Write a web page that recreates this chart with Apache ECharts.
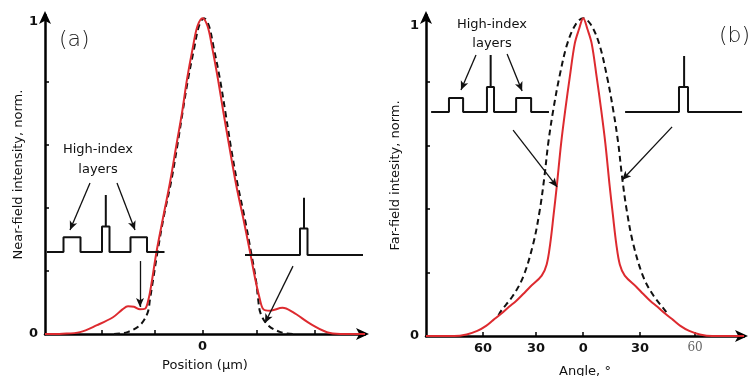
<!DOCTYPE html>
<html><head><meta charset="utf-8">
<script src="https://cdn.jsdelivr.net/npm/echarts@6/dist/echarts.min.js"></script>
<style>html,body{margin:0;padding:0;background:#fff}#c{width:748px;height:376px}</style>
</head><body><div id="c"></div>
<script>
const FONT = '"DejaVu Sans", "Liberation Sans", sans-serif';
const RED = '#dd2a2f';

// ---------- Panel (a): near field ----------
const redAX = [-3.15,-2.8,-2.45,-2.11,-1.79,-1.6,-1.49,-1.37,-1.25,-1.15,-1.08,-1.02,-0.92,-0.78,-0.65,-0.52,-0.41,-0.31,-0.19,-0.1,0,0.1,0.19,0.31,0.42,0.54,0.67,0.81,0.95,1.06,1.14,1.22,1.35,1.6,1.8,2.2,2.55,2.85,3.25];
const redAY = [0,0.001,0.006,0.028,0.053,0.078,0.088,0.086,0.078,0.08,0.11,0.16,0.26,0.375,0.48,0.6,0.7,0.806,0.91,0.975,1,0.975,0.91,0.806,0.7,0.59,0.475,0.37,0.26,0.17,0.115,0.078,0.074,0.083,0.07,0.028,0.003,0,0];
const dashAX = [-1.77,-1.5,-1.25,-1.1,-1.05,-1.0,-0.9,-0.77,-0.63,-0.5,-0.4,-0.29,-0.16,-0.07,0.03,0.13,0.22,0.35,0.46,0.57,0.7,0.84,0.97,1.07,1.11,1.16,1.31,1.56,1.83];
const dashAY = [0,0.006,0.028,0.066,0.11,0.16,0.26,0.375,0.48,0.6,0.7,0.806,0.91,0.975,1,0.975,0.91,0.806,0.7,0.59,0.475,0.37,0.26,0.17,0.115,0.066,0.028,0.006,0];
// inset index profiles (a)
const insetALX = [-3.11,-2.78,-2.78,-2.44,-2.44,-2.01,-2.01,-1.934,-1.934,-1.934,-1.86,-1.86,-1.44,-1.44,-1.11,-1.11,-0.76];
const insetALY = [0.26,0.26,0.306,0.306,0.26,0.26,0.34,0.34,0.44,0.34,0.34,0.26,0.26,0.306,0.306,0.26,0.26];
const insetARX = [0.85,1.95,1.95,2.03,2.03,2.03,2.10,2.10,3.21];
const insetARY = [0.25,0.25,0.334,0.334,0.431,0.334,0.334,0.25,0.25];
// arrows (a): [x1,y1,x2,y2]
const arrowsA = [[-2.25,0.478,-2.65,0.329],[-1.71,0.478,-1.35,0.329],[-1.25,0.231,-1.25,0.0855],[1.81,0.215,1.25,0.035]];
const tickA = [-2.01,-0.95,0,1.09,2.25];

// ---------- Panel (b): far field ----------
const redBX = [-89,-73,-66,-60,-55,-51,-46.5,-42,-38,-34,-30,-23.5,-20.7,-18.7,-16.8,-15,-12.5,-10.2,-7.6,-4.8,-2.4,0,2.4,4.8,7.6,10.2,12.5,15,16.8,18.7,20.7,23.5,30,34,38,42,46.5,51,55,60,66,73,91];
const redBY = [0,0,0.005,0.016,0.032,0.05,0.07,0.092,0.11,0.132,0.155,0.19,0.225,0.29,0.38,0.47,0.607,0.71,0.815,0.92,0.965,1,0.965,0.92,0.815,0.71,0.607,0.47,0.38,0.29,0.225,0.19,0.155,0.132,0.11,0.092,0.07,0.05,0.032,0.016,0.005,0,0];
const dashBX = [-48,-46.4,-40,-34,-28.3,-24.6,-22,-19.8,-17,-13.5,-9,-4.3,0,4.3,9,13.5,17,19.8,22,24.6,28.3,34,40,46.4,48];
const dashBY = [0.065,0.08,0.125,0.186,0.29,0.396,0.5,0.607,0.71,0.815,0.92,0.98,1,0.98,0.92,0.815,0.71,0.607,0.5,0.396,0.29,0.186,0.125,0.08,0.065];
const insetBLX = [-86.1,-76,-76,-68,-68,-54.5,-54.5,-52.4,-52.4,-52.4,-50.5,-50.5,-38,-38,-29.5,-29.5,-19.4];
const insetBLY = [0.705,0.705,0.749,0.749,0.705,0.705,0.7835,0.7835,0.884,0.7835,0.7835,0.705,0.705,0.749,0.749,0.705,0.705];
const insetBRX = [23.7,54.2,54.2,57.1,57.1,57.1,59.3,59.3,89.9];
const insetBRY = [0.705,0.705,0.7835,0.7835,0.881,0.7835,0.7835,0.705,0.705];
const arrowsB = [[-60.7,0.884,-69.2,0.774],[-43.1,0.887,-34.6,0.771],[-39.7,0.648,-14.8,0.469],[50.3,0.658,22.0,0.491]];
const tickB = [-56.7,-26.7,0,32.2,63.3];
const tickBLabels = ['60','30','0','30','60'];

const zip = (xs, ys) => xs.map((x, i) => [x, ys[i]]);

function axisLineStyle() {
  return { show: true, onZero: false, symbol: ['none', 'arrow'], symbolSize: [9, 13], symbolOffset: [0, 4],
           lineStyle: { color: '#000', width: 2.5 } };
}
const labelStyle = { color: '#111', fontFamily: FONT, fontSize: 13, fontWeight: 'bold' };
const nameStyle = { color: '#111', fontFamily: FONT, fontSize: 13 };

function arrowMark(arr) {
  return {
    silent: true, symbol: ['none', 'arrow'], symbolSize: [6, 9],
    label: { show: false },
    lineStyle: { color: '#111', width: 1.3, type: 'solid' },
    data: arr.map(a => [{ coord: [a[0], a[1]] }, { coord: [a[2], a[3]] }])
  };
}

const chart = echarts.init(document.getElementById('c'), null, { renderer: 'canvas' });
chart.setOption({
  animation: false,
  backgroundColor: '#fff',
  grid: [
    { left: 45, top: 15, width: 320, height: 319, containLabel: false, outerBoundsMode: 'none' },
    { left: 426, top: 15, width: 318, height: 321, containLabel: false, outerBoundsMode: 'none' }
  ],
  xAxis: [
    { gridIndex: 0, type: 'value', min: -3.15, max: 3.25,
      axisLine: axisLineStyle(), splitLine: { show: false },
      axisTick: { show: true, inside: true, length: 4, lineStyle: { width: 1.5, color: '#000' }, customValues: tickA },
      axisLabel: Object.assign({ customValues: [0], formatter: () => '0', margin: 6 }, labelStyle),
      name: 'Position (\u00b5m)', nameLocation: 'middle', nameGap: 25, nameTextStyle: nameStyle },
    { gridIndex: 1, type: 'value', min: -89, max: 91,
      axisLine: axisLineStyle(), splitLine: { show: false },
      axisTick: { show: true, inside: true, length: 4, lineStyle: { width: 1.5, color: '#000' }, customValues: tickB },
      axisLabel: Object.assign({ customValues: tickB, margin: 6,
        formatter: v => {
          let k = 0, d = 1e9;
          tickB.forEach((t, i) => { if (Math.abs(t - v) < d) { d = Math.abs(t - v); k = i; } });
          return k === tickB.length - 1 ? '{s|' + tickBLabels[k] + '}' : tickBLabels[k];
        },
        rich: { s: { fontFamily: '"DejaVu Serif", serif', fontSize: 12, color: '#666', fontWeight: 'normal' } }
      }, labelStyle),
      name: 'Angle, \u00b0', nameLocation: 'middle', nameGap: 29, nameTextStyle: nameStyle }
  ],
  yAxis: [
    { gridIndex: 0, type: 'value', min: 0, max: 1.01,
      axisLine: axisLineStyle(), splitLine: { show: false },
      axisTick: { show: true, inside: true, length: 4, lineStyle: { width: 1.5, color: '#000' }, customValues: [0.2, 0.4, 0.6, 0.8] },
      axisLabel: Object.assign({ customValues: [0, 0.99], formatter: v => (v < 0.5 ? '0' : '1'), margin: 7 }, labelStyle),
      name: 'Near-field intensity, norm.', nameLocation: 'middle', nameRotate: 90, nameGap: 20, nameTextStyle: nameStyle },
    { gridIndex: 1, type: 'value', min: 0, max: 1.01,
      axisLine: axisLineStyle(), splitLine: { show: false },
      axisTick: { show: true, inside: true, length: 4, lineStyle: { width: 1.5, color: '#000' }, customValues: [0.2, 0.4, 0.6, 0.8] },
      axisLabel: Object.assign({ customValues: [0, 0.975], formatter: v => (v < 0.5 ? '0' : '1'), margin: 7 }, labelStyle),
      name: 'Far-field intesity, norm.', nameLocation: 'middle', nameRotate: 90, nameGap: 24, nameTextStyle: nameStyle }
  ],
  series: [
    { type: 'line', xAxisIndex: 0, yAxisIndex: 0, data: zip(dashAX, dashAY), smooth: 0.35, showSymbol: false, z: 2,
      lineStyle: { color: '#111', width: 2, type: [6, 4] } },
    { type: 'line', xAxisIndex: 0, yAxisIndex: 0, data: zip(redAX, redAY), smooth: 0.35, showSymbol: false, z: 3,
      lineStyle: { color: RED, width: 2 } },
    { type: 'line', xAxisIndex: 0, yAxisIndex: 0, data: zip(insetALX, insetALY), showSymbol: false, z: 4,
      lineStyle: { color: '#111', width: 2 }, markLine: arrowMark(arrowsA) },
    { type: 'line', xAxisIndex: 0, yAxisIndex: 0, data: zip(insetARX, insetARY), showSymbol: false, z: 4,
      lineStyle: { color: '#111', width: 2 } },

    { type: 'line', xAxisIndex: 1, yAxisIndex: 1, data: zip(dashBX, dashBY), smooth: 0.35, showSymbol: false, z: 2,
      lineStyle: { color: '#111', width: 2, type: [6, 4] } },
    { type: 'line', xAxisIndex: 1, yAxisIndex: 1, data: zip(redBX, redBY), smooth: 0.35, showSymbol: false, z: 3,
      lineStyle: { color: RED, width: 2 } },
    { type: 'line', xAxisIndex: 1, yAxisIndex: 1, data: zip(insetBLX, insetBLY), showSymbol: false, z: 4,
      lineStyle: { color: '#111', width: 2 }, markLine: arrowMark(arrowsB) },
    { type: 'line', xAxisIndex: 1, yAxisIndex: 1, data: zip(insetBRX, insetBRY), showSymbol: false, z: 4,
      lineStyle: { color: '#111', width: 2 } }
  ],
  graphic: [
    { type: 'text', x: 59, y: 40, style: { text: '(a)', fontFamily: FONT, fontSize: 22, fontWeight: 'lighter', fill: '#222', align: 'left', verticalAlign: 'middle' } },
    { type: 'text', x: 719, y: 36, style: { text: '(b)', fontFamily: FONT, fontSize: 22, fontWeight: 'lighter', fill: '#222', align: 'left', verticalAlign: 'middle' } },
    { type: 'text', x: 98, y: 160, style: { text: 'High-index\nlayers', fontFamily: FONT, fontSize: 13, lineHeight: 20, fill: '#111', align: 'center', verticalAlign: 'middle' } },
    { type: 'text', x: 492, y: 34, style: { text: 'High-index\nlayers', fontFamily: FONT, fontSize: 13, lineHeight: 19, fill: '#111', align: 'center', verticalAlign: 'middle' } }
  ]
});
</script></body></html>
